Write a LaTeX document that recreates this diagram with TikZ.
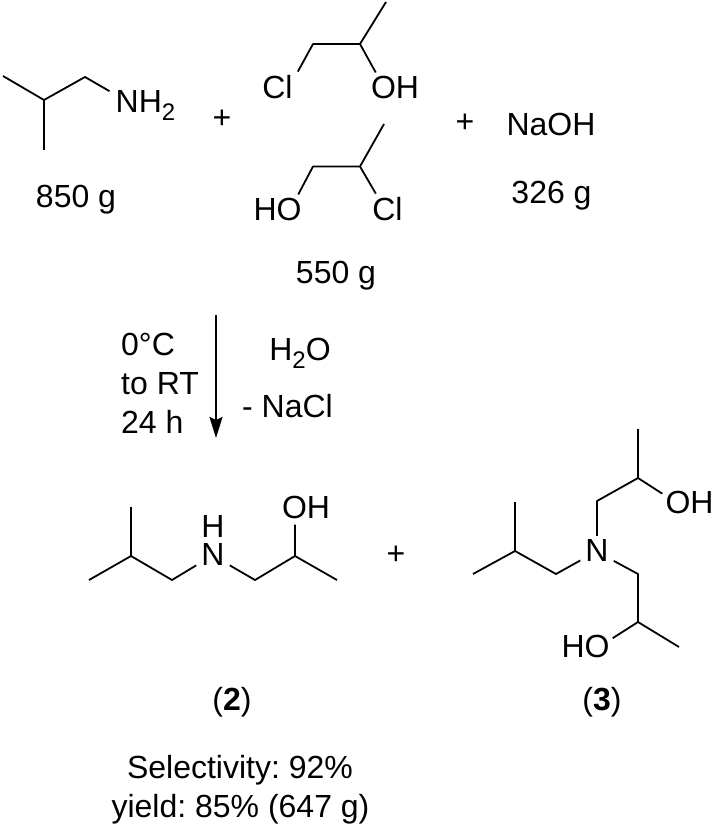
\documentclass[tikz,border=0pt]{standalone}
\usepackage{fontspec}
\setmainfont{Liberation Sans}
\usetikzlibrary{arrows.meta}
\frenchspacing
\newcommand{\subtwo}{\raisebox{-8pt}{\fontsize{24}{24}\selectfont 2}}
\tikzset{
  bond/.style={line width=1.8pt, line join=round},
  atom/.style={anchor=base, inner xsep=5pt, inner ysep=3pt},
  txt/.style={anchor=base, inner sep=0pt},
  txtleft/.style={anchor=base west, inner sep=0pt}
}
\begin{document}
\begin{tikzpicture}[x=1pt, y=-1pt, every node/.style={font=\fontsize{32}{36}\selectfont}]
 \useasboundingbox (0,0) rectangle (715,827);

 % isobutylamine
 \coordinate (a1) at (3,76);
 \coordinate (a2) at (44,100);
 \coordinate (a3) at (85,77);
 \coordinate (a4) at (44,150);
 \node [atom, inner xsep=6pt] (nh) at (145.5,112) {NH\subtwo};
 \draw [bond] (a1) -- (a2) -- (a3) -- (nh.159);
 \draw [bond] (a2) -- (a4);
 \node [txt] (massa) at (76,207) {850 g};
 \node [txt] (plusa) at (222,128) {+};

 % chloropropanols
 \coordinate (b1) at (313,44);
 \coordinate (b2) at (360,44);
 \coordinate (b3) at (386,2);
 \node [atom] (cla) at (277.5,98) {Cl};
 \node [atom] (oha) at (395,98) {OH};
 \draw [bond] (cla.north east) -- (b1) -- (b2) -- (oha.143);
 \draw [bond] (b2) -- (b3);

 \coordinate (c1) at (313,166.5);
 \coordinate (c2) at (360,166.5);
 \coordinate (c3) at (384,124);
 \node [atom] (hob) at (277.5,220) {HO};
 \node [atom] (clb) at (387.5,220) {Cl};
 \draw [bond] (hob.35) -- (c1) -- (c2) -- (clb.128);
 \draw [bond] (c2) -- (c3);
 \node [txt] (massb) at (336,283) {550 g};

 \node [txt] (plusb) at (465,132) {+};
 \node [txt] (naoh) at (551,135) {NaOH};
 \node [txt] (massc) at (551.5,203) {326 g};

 % reaction arrow
 \coordinate (arrowtop) at (216,315);
 \coordinate (arrowend) at (216,438);
 \draw [-{Stealth[length=21pt, width=13pt, inset=3pt]}, line width=1.8pt] (arrowtop) -- (arrowend);
 \node [txtleft] (conda) at (121,355) {0°C};
 \node [txtleft] (condb) at (121,394) {to RT};
 \node [txtleft] (condc) at (121,433) {24 h};
 \node [txt] (water) at (300,360) {H\subtwo O};
 \node [txt] (nacl) at (287.5,417) {- NaCl};

 % product 2
 \coordinate (d1) at (89,580);
 \coordinate (d2) at (131,556);
 \coordinate (d3) at (131,507);
 \coordinate (d4) at (172,580);
 \coordinate (d5) at (255,580);
 \coordinate (d6) at (295,556);
 \coordinate (d7) at (337,580);
 \node [anchor=center, align=center, inner xsep=5pt, inner ysep=3pt] (nd) at (213,540.5) {H\\[-8pt]N};
 \node [atom, inner ysep=6pt] (ohd) at (306,518) {OH};
 \draw [bond] (d1) -- (d2) -- (d4) -- (nd.236);
 \draw [bond] (d2) -- (d3);
 \draw [bond] (nd.304) -- (d5) -- (d6) -- (d7);
 \draw [bond] (d6) -- (ohd.238);
 \node [txt] (plusc) at (396,564) {+};
 \node [txt] (lbltwo) at (232,710) {(\textbf{2})};

 % product 3
 \coordinate (e1) at (473,574);
 \coordinate (e2) at (515,551);
 \coordinate (e3) at (515,502);
 \coordinate (e4) at (556,574);
 \coordinate (e5) at (597,501);
 \coordinate (e6) at (638,478);
 \coordinate (e7) at (638,429);
 \coordinate (e8) at (638,574);
 \coordinate (e9) at (638,622);
 \coordinate (e10) at (679,647);
 \node [atom] (ne) at (597,561) {N};
 \node [atom, inner xsep=3pt] (ohe) at (689.5,513) {OH};
 \node [atom, inner xsep=3pt] (hoe) at (585.5,657) {HO};
 \draw [bond] (e1) -- (e2) -- (e4) -- (ne.212.5);
 \draw [bond] (e2) -- (e3);
 \draw [bond] (ne.north) -- (e5) -- (e6) -- (ohe.163.6);
 \draw [bond] (e6) -- (e7);
 \draw [bond] (ne.327.5) -- (e8) -- (e9) -- (e10);
 \draw [bond] (e9) -- (hoe.16.4);
 \node [txt] (lblthree) at (602,710) {(\textbf{3})};

 \node [txt] (selec) at (240,778) {Selectivity: 92\%};
 \node [txt] (yield) at (240.5,817) {yield: 85\% (647 g)};
\end{tikzpicture}
\end{document}
